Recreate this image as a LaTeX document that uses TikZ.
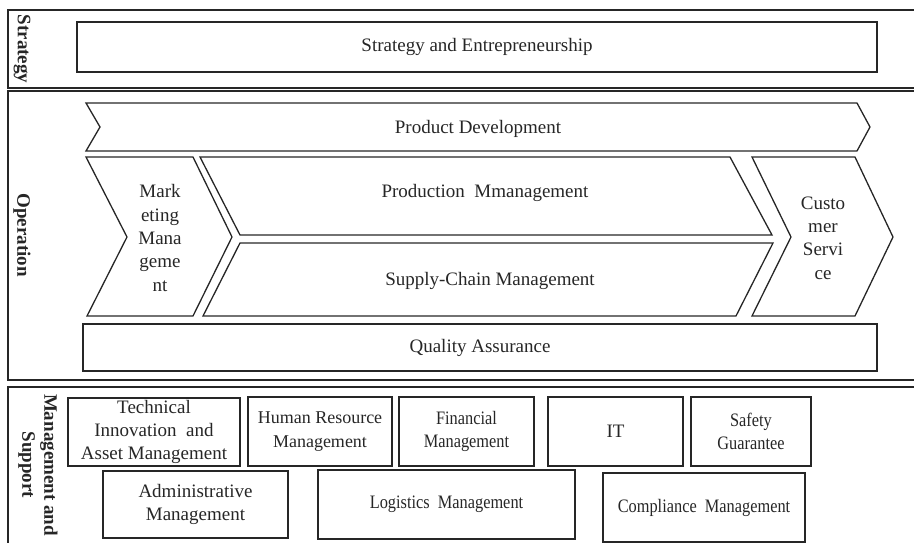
\documentclass[tikz,border=0pt]{standalone}
\usepackage{fontspec}
\setmainfont{Liberation Serif}
\newfontfamily\narrowserif[FakeStretch=0.86]{Liberation Serif}
\begin{document}
\begin{tikzpicture}[x=1pt,y=-1pt,
  frame/.style={draw=black!85, line width=1.4pt},
  shapeline/.style={draw=black!85, line width=1.3pt, line join=miter},
  txt/.style={font=\fontsize{19}{23.4}\selectfont, text=black!85, align=center, inner sep=0pt},
  narrowtxt/.style={font=\fontsize{19}{23.4}\narrowserif, text=black!85, align=center, inner sep=0pt},
  boxed/.style={shapeline, rectangle, align=center, inner sep=0pt, text=black!85},
  sidelabel/.style={font=\fontsize{19}{22}\selectfont\bfseries, text=black!85, rotate=-90, align=center, inner sep=0pt}
]
\useasboundingbox (0,0) rectangle (914,543);
\clip (0,0) rectangle (914,543);

% section frames
\draw[frame] (8,10) rectangle (930,88);
\draw[frame] (8,91) rectangle (930,380);
\draw[frame] (8,387) rectangle (930,570);

% section titles
\node[sidelabel] (lstrat) at (22,49) {Strategy};
\node[sidelabel] (lop) at (22,235) {Operation};
\node[sidelabel] (lman) at (38,465) {Management and\\Support};

% strategy
\node[boxed, txt, minimum width=800pt, minimum height=50pt] (strat) at (477,47) {Strategy and Entrepreneurship};

% operation chevrons
\draw[shapeline] (86,103) -- (857,103) -- (870,127) -- (857,151) -- (86,151) -- (100,127) -- cycle;
\node[txt] (prod) at (478,129) {Product Development};

\draw[shapeline] (86,157) -- (193,157) -- (232,237) -- (193,316) -- (87,316) -- (127,237) -- cycle;
\node[txt] (mkt) at (160,238) {Mark\\eting\\Mana\\geme\\nt};

\draw[shapeline] (200,157) -- (730,157) -- (772,235) -- (240,235) -- cycle;
\node[txt] (pm) at (485,193) {Production\ \ Mmanagement};

\draw[shapeline] (240,243) -- (773,243) -- (736,316) -- (203,316) -- cycle;
\node[txt] (scm) at (490,281) {Supply-Chain\ Management};

\draw[shapeline] (752,157) -- (855,157) -- (893,237) -- (855,316) -- (752,316) -- (791,237) -- cycle;
\node[txt] (cs) at (823,238) {Custo\\mer\\Servi\\ce};

\node[boxed, txt, minimum width=794pt, minimum height=47pt] (qa) at (480,347.5) {Quality Assurance};

% management and support
\node[boxed, txt, minimum width=172pt, minimum height=68pt] (tech) at (154,432) {Technical\\Innovation\ \ and\\Asset Management};
\node[boxed, txt, font=\fontsize{18}{23.4}\selectfont, minimum width=144pt, minimum height=69pt] (hr) at (320,431.5) {Human Resource\\Management};
\node[boxed, narrowtxt, minimum width=135pt, minimum height=69pt] (fin) at (466.5,431.5) {Financial\\Management};
\node[boxed, txt, minimum width=135pt, minimum height=69pt] (it) at (615.5,431.5) {IT};
\node[boxed, narrowtxt, minimum width=120pt, minimum height=69pt] (safe) at (751,431.5) {Safety\\Guarantee};
\node[boxed, txt, minimum width=185pt, minimum height=67pt] (adm) at (195.5,504.5) {Administrative\\Management};
\node[boxed, narrowtxt, minimum width=257pt, minimum height=69pt] (log) at (446.5,504.5) {Logistics\ \ Management};
\node[boxed, narrowtxt, minimum width=202pt, minimum height=69pt] (comp) at (704,507.5) {Compliance\ \ Management};
\end{tikzpicture}
\end{document}
